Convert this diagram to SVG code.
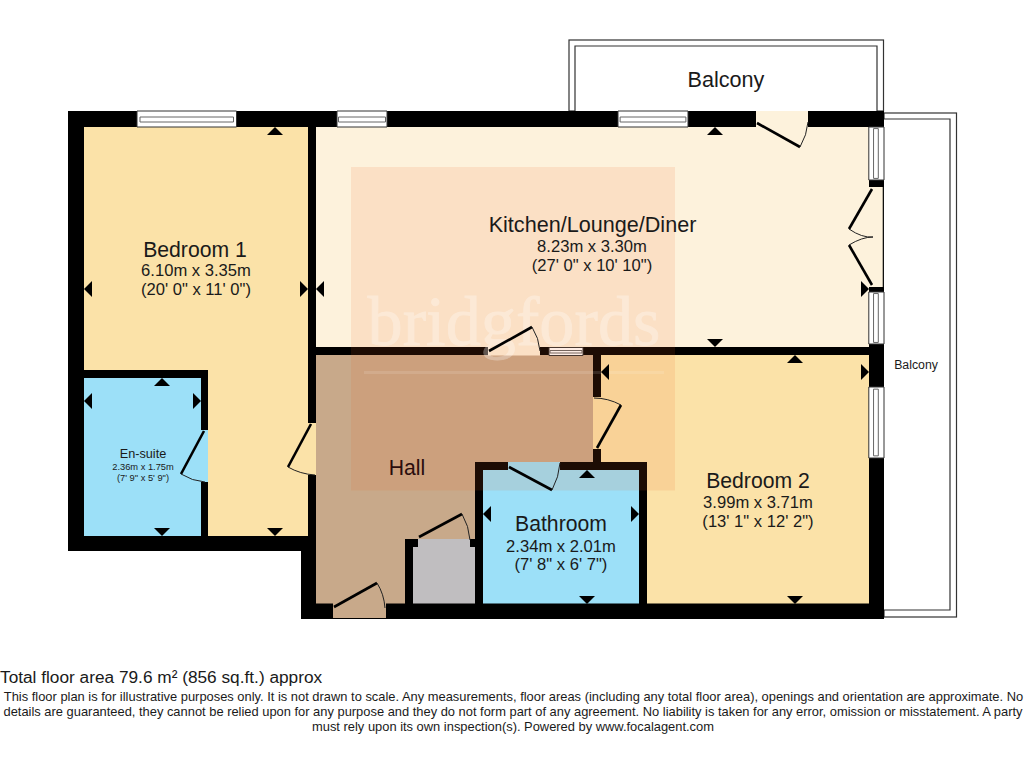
<svg xmlns="http://www.w3.org/2000/svg" width="1024" height="768" viewBox="0 0 1024 768">
<style>
text{font-family:"Liberation Sans",Arial,sans-serif;fill:#1a1a1a;text-anchor:middle}
.wall{fill:#000}
.name{font-size:21.2px}
.dim{font-size:16.6px}
.leaf{fill:none;stroke:#000;stroke-width:2.6}
.arc{fill:none;stroke:#222;stroke-width:1}
.bal{fill:#fff;stroke:#333;stroke-width:1.2}
.win{fill:#fff;stroke:#333;stroke-width:1;vector-effect:non-scaling-stroke}
.winl{fill:none;stroke:#666;stroke-width:1;vector-effect:non-scaling-stroke}
</style>
<defs>
<path id="up" d="M-8 0L8 0L0-8Z" fill="#000"/>
<path id="down" d="M-8 0L8 0L0 8Z" fill="#000"/>
<path id="left" d="M0-8L0 8L-8 0Z" fill="#000"/>
<path id="right" d="M0-8L0 8L8 0Z" fill="#000"/>
<g id="winh"><rect class="win" x="0" y="0" width="100" height="16"/><rect class="winl" x="3" y="6" width="94" height="5"/></g>
</defs>
<rect width="1024" height="768" fill="#fff"/>
<g id="balcony-top"><rect class="bal" x="569" y="40" width="314.500" height="71"/><path class="bal" d="M575 111V46H877V111"/><text x="726" y="86.500" style="font-size:21.600px">Balcony</text></g>
<g id="balcony-right"><rect class="bal" x="884" y="113" width="72.500" height="504"/><path class="bal" d="M884 119H950V610H884"/><text x="916" y="369" style="font-size:12.300px">Balcony</text></g>
<g id="floors">
<rect id="bedroom-1-floor" x="84" y="127" width="224" height="409" fill="#fbe2a8"/>
<rect id="kitchen-floor" x="316" y="127" width="553" height="221" fill="#fdf2dc"/>
<rect id="hall-floor" x="316" y="355" width="278" height="249" fill="#c8a98a"/>
<rect id="bedroom-2-floor" x="600" y="355" width="269" height="249" fill="#fbe2a8"/>
<rect id="ensuite-floor" x="84" y="378" width="118" height="158" fill="#9ce0f8"/>
<rect id="bathroom-floor" x="483" y="470" width="156" height="134" fill="#9ce0f8"/>
<rect id="cupboard-floor" x="413" y="547" width="62" height="57" fill="#c0bec0"/>
</g>
<g id="walls" class="wall">
<path d="M68 111H884V127H84V536H316V551H68Z"/>
<rect x="869" y="111" width="15" height="508"/>
<rect x="301" y="551" width="15" height="68"/>
<rect x="301" y="603.500" width="583" height="15.500"/>
<rect x="308" y="111" width="8" height="440"/>
<rect x="316" y="347" width="553" height="8"/>
<rect x="593" y="347" width="8" height="116"/>
<rect x="84" y="370" width="124" height="8"/>
<rect x="201" y="370" width="7" height="170"/>
<path d="M475 462H647V610H639V470H483V610H475Z"/>
<path d="M405 539H475V547H413V610H405Z"/>
</g>
<g id="openings">
<rect x="201" y="430" width="7" height="52" fill="#9ce0f8"/>
<rect x="308" y="423" width="8" height="52" fill="#fbe2a8"/>
<rect x="333" y="603" width="53" height="15" fill="#c8a98a"/>
<rect x="418" y="539" width="52" height="8.500" fill="#c0bec0"/>
<rect x="508" y="462" width="52" height="8.500" fill="#9ce0f8"/>
<rect x="593" y="397" width="8" height="52" fill="#fbe2a8"/>
<rect x="488" y="347" width="52" height="8.500" fill="#fdf2dc"/>
<rect x="756" y="111" width="52" height="16" fill="#fdf2dc"/>
<rect x="869" y="187" width="14" height="100" fill="#fdf2dc"/>
<path d="M883.300 187V287" stroke="#111" stroke-width="1.200"/>
</g>
<g id="windows">
<use href="#winh" transform="translate(137 111) scale(.995 1)"/>
<use href="#winh" transform="translate(337 111) scale(.5 1)"/>
<use href="#winh" transform="translate(618 111) scale(.7 1)"/>
<use href="#winh" transform="translate(884 127) rotate(90) scale(.53 .95)"/>
<use href="#winh" transform="translate(884 292) rotate(90) scale(.52 .95)"/>
<use href="#winh" transform="translate(884 387) rotate(90) scale(.71 .95)"/>
<use href="#winh" transform="translate(549 347.500) scale(.34 .5)"/>
</g>
<rect id="watermark-panel" x="351" y="167" width="324" height="323.500" fill="#f0601e" opacity=".12"/>
<g id="watermark" opacity=".3"><text x="514" y="345" style="font-family:'Liberation Serif',serif;font-size:70.300px;fill:#fff;stroke:#fff;stroke-width:.8">bridgfords</text></g>
<rect id="watermark-line" x="364" y="371" width="300" height="3" fill="#fff" opacity=".12"/>
<g id="doors">
<path class="leaf" d="M204 431L181 474"/><path class="arc" d="M181 474Q192 481 205 482"/>
<path class="leaf" d="M311 424L288 467"/><path class="arc" d="M288 467Q300 474 315 475"/>
<path class="leaf" d="M334 607L377 583"/><path class="arc" d="M377 583Q384 594 385 608"/>
<path class="leaf" d="M419 537L462 514"/><path class="arc" d="M462 514Q469 526 470 540"/>
<path class="leaf" d="M509 467L552 490"/><path class="arc" d="M552 490Q559 477 560 463"/>
<path class="leaf" d="M597 448L621 405"/><path class="arc" d="M621 405Q608 398 594 398"/>
<path class="leaf" d="M489 351L532 327"/><path class="arc" d="M532 327Q539 338 540 351"/>
<path class="leaf" d="M757 123L800 147"/><path class="arc" d="M800 147Q807 135 808 122"/>
<path class="leaf" d="M872 189L849 229"/><path class="arc" d="M849 229Q862 238 873 237"/>
<path class="leaf" d="M872 285L849 245"/><path class="arc" d="M849 245Q862 237 873 237"/>
</g>
<g id="dimension-marks">
<use href="#up" x="275" y="135"/><use href="#left" x="92" y="289"/><use href="#right" x="300" y="289"/><use href="#down" x="275" y="528"/>
<use href="#left" x="324" y="289"/><use href="#up" x="715" y="135"/><use href="#down" x="715" y="339"/><use href="#right" x="861" y="289"/>
<use href="#up" x="795" y="363"/><use href="#down" x="795" y="596"/><use href="#right" x="861" y="372"/><use href="#left" x="609" y="372"/>
<use href="#up" x="587" y="478"/><use href="#down" x="587" y="596"/><use href="#left" x="491" y="514"/><use href="#right" x="631" y="514"/>
<use href="#up" x="162" y="386"/><use href="#down" x="162" y="528"/><use href="#left" x="92" y="401"/><use href="#right" x="193" y="401"/>
</g>
<g id="bedroom-1"><text class="name" x="195" y="256.500">Bedroom 1</text><text class="dim" x="196" y="276">6.10m x 3.35m</text><text class="dim" x="196" y="295">(20' 0" x 11' 0")</text></g>
<g id="kitchen"><text class="name" x="592.500" y="231.500" style="font-size:21.600px">Kitchen/Lounge/Diner</text><text class="dim" x="592" y="252">8.23m x 3.30m</text><text class="dim" x="592" y="271">(27' 0" x 10' 10")</text></g>
<g id="hall"><text class="name" x="407" y="475" style="fill:#2a0d0d">Hall</text></g>
<g id="ensuite"><text x="143" y="458" style="font-size:12.700px">En-suite</text><text x="143" y="470" style="font-size:9.300px">2.36m x 1.75m</text><text x="143" y="481" style="font-size:9.300px">(7' 9" x 5' 9")</text></g>
<g id="bathroom"><text class="name" x="561" y="530.500">Bathroom</text><text class="dim" x="561" y="551.500">2.34m x 2.01m</text><text class="dim" x="561" y="570">(7' 8" x 6' 7")</text></g>
<g id="bedroom-2"><text class="name" x="758" y="487.500">Bedroom 2</text><text class="dim" x="758" y="507.500">3.99m x 3.71m</text><text class="dim" x="758" y="526.500">(13' 1" x 12' 2")</text></g>
<g id="notes">
<text x="0" y="683" style="font-size:17.250px;text-anchor:start">Total floor area 79.6 m² (856 sq.ft.) approx</text>
<text x="513.500" y="701" style="font-size:12.900px">This floor plan is for illustrative purposes only. It is not drawn to scale. Any measurements, floor areas (including any total floor area), openings and orientation are approximate. No</text>
<text x="513" y="716" style="font-size:12.900px">details are guaranteed, they cannot be relied upon for any purpose and they do not form part of any agreement. No liability is taken for any error, omission or misstatement. A party</text>
<text x="513" y="731" style="font-size:12.900px">must rely upon its own inspection(s). Powered by www.focalagent.com</text>
</g>
</svg>
